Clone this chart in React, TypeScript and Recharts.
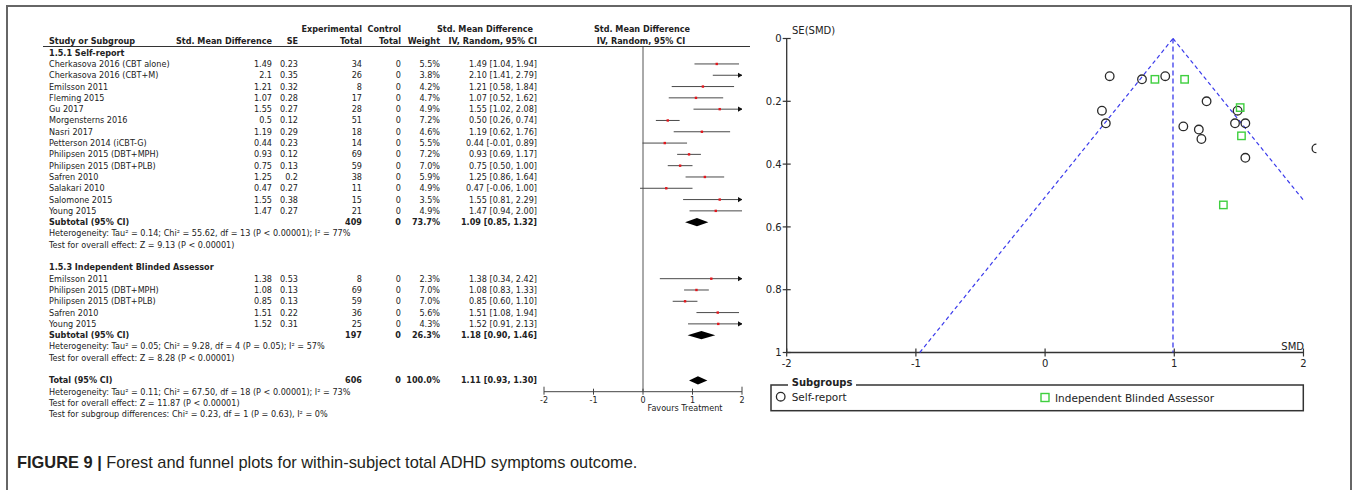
import React from 'react'
import { ScatterChart, Scatter, XAxis, YAxis, ErrorBar, ReferenceLine, ReferenceArea } from 'recharts'

// 1.5.1 Self-report
const selfNames = [
  'Cherkasova 2016 (CBT alone)', 'Cherkasova 2016 (CBT+M)', 'Emilsson 2011', 'Fleming 2015', 'Gu 2017',
  'Morgensterns 2016', 'Nasri 2017', 'Petterson 2014 (iCBT-G)', 'Philipsen 2015 (DBT+MPH)',
  'Philipsen 2015 (DBT+PLB)', 'Safren 2010', 'Salakari 2010', 'Salomone 2015', 'Young 2015',
]
const selfSmd = [1.49, 2.1, 1.21, 1.07, 1.55, 0.5, 1.19, 0.44, 0.93, 0.75, 1.25, 0.47, 1.55, 1.47]
const selfSe = [0.23, 0.35, 0.32, 0.28, 0.27, 0.12, 0.29, 0.23, 0.12, 0.13, 0.2, 0.27, 0.38, 0.27]
const selfTotal = [34, 26, 8, 17, 28, 51, 18, 14, 69, 59, 38, 11, 15, 21]
const selfWeight = [5.5, 3.8, 4.2, 4.7, 4.9, 7.2, 4.6, 5.5, 7.2, 7.0, 5.9, 4.9, 3.5, 4.9]
const selfLow = [1.04, 1.41, 0.58, 0.52, 1.02, 0.26, 0.62, -0.01, 0.69, 0.5, 0.86, -0.06, 0.81, 0.94]
const selfHigh = [1.94, 2.79, 1.84, 1.62, 2.08, 0.74, 1.76, 0.89, 1.17, 1.0, 1.64, 1.0, 2.29, 2.0]

// 1.5.3 Independent Blinded Assessor
const ibaNames = ['Emilsson 2011', 'Philipsen 2015 (DBT+MPH)', 'Philipsen 2015 (DBT+PLB)', 'Safren 2010', 'Young 2015']
const ibaSmd = [1.38, 1.08, 0.85, 1.51, 1.52]
const ibaSe = [0.53, 0.13, 0.13, 0.22, 0.31]
const ibaTotal = [8, 69, 59, 36, 25]
const ibaWeight = [2.3, 7.0, 7.0, 5.6, 4.3]
const ibaLow = [0.34, 0.83, 0.6, 1.08, 0.91]
const ibaHigh = [2.42, 1.33, 1.1, 1.94, 2.13]

// subtotals and total (diamonds)
const summaryLabels = ['Subtotal (95% CI)', 'Subtotal (95% CI)', 'Total (95% CI)']
const summaryTotal = [409, 197, 606]
const summaryWeight = [73.7, 26.3, 100.0]
const summarySmd = [1.09, 1.18, 1.11]
const summaryLow = [0.85, 0.9, 0.93]
const summaryHigh = [1.32, 1.46, 1.3]

const heterogeneity = [
  'Heterogeneity: Tau² = 0.14; Chi² = 55.62, df = 13 (P < 0.00001); I² = 77%',
  'Heterogeneity: Tau² = 0.05; Chi² = 9.28, df = 4 (P = 0.05); I² = 57%',
  'Heterogeneity: Tau² = 0.11; Chi² = 67.50, df = 18 (P < 0.00001); I² = 73%',
]
const overallEffect = [
  'Test for overall effect: Z = 9.13 (P < 0.00001)',
  'Test for overall effect: Z = 8.28 (P < 0.00001)',
  'Test for overall effect: Z = 11.87 (P < 0.00001)',
]
const subgroupTest = 'Test for subgroup differences: Chi² = 0.23, df = 1 (P = 0.63), I² = 0%'

const forestTicks = [-2, -1, 0, 1, 2]
const funnelXTicks = [-2, -1, 0, 1, 2]
const funnelYTicks = [0, 0.2, 0.4, 0.6, 0.8, 1]
const funnelCentre = 0.99
const funnelLeftLimit = [{ x: -0.97, y: 1 }, { x: 0.99, y: 0 }]
const funnelRightLimit = [{ x: 0.99, y: 0 }, { x: 2, y: 0.515 }]
const subgroupNames = ['Self-report', 'Independent Blinded Assessor']

const FONT = "'DejaVu Sans', sans-serif"
const INK = '#222'

// forest layout: row index -> y
const ROW_TOP = -1.5
const ROW_BOTTOM = 29
const PLOT_TOP = 47
const PLOT_BOTTOM = 391.7
const FOREST_H = 420
const rowY = (k: number) => PLOT_TOP + ((k - ROW_TOP) * (PLOT_BOTTOM - PLOT_TOP)) / (ROW_BOTTOM - ROW_TOP)

const SELF_START = 0
const IBA_HEAD = 18
const IBA_START = 19
const summaryRows = [14, 24, 28]

const COL = { study: 49, smd: 272, se: 298, exp: 362, ctl: 401, weight: 440, ci: 537 }

const ciText = (v: number, lo: number, hi: number) => `${v.toFixed(2)} [${lo.toFixed(2)}, ${hi.toFixed(2)}]`

const toRows = (smd: number[], low: number[], high: number[], start: number) =>
  smd.map((v, i) => ({ x: v, y: start + i, err: [v - low[i], Math.min(high[i], 2) - v] }))

const selfRows = toRows(selfSmd, selfLow, selfHigh, SELF_START)
const ibaRows = toRows(ibaSmd, ibaLow, ibaHigh, IBA_START)
const arrowRows = [
  ...selfHigh.map((h, i) => ({ h, y: SELF_START + i })),
  ...ibaHigh.map((h, i) => ({ h, y: IBA_START + i })),
]
  .filter((r) => r.h > 2)
  .map((r) => ({ x: 2, y: r.y }))

const selfPoints = selfSmd.map((v, i) => ({ smd: v, se: selfSe[i] }))
const ibaPoints = ibaSmd.map((v, i) => ({ smd: v, se: ibaSe[i] }))

const redDot = (p: any) => <rect x={p.cx - 1.2} y={p.cy - 1.2} width={2.4} height={2.4} fill="#e3161c" />
const arrowHead = (p: any) => (
  <polygon points={`${p.cx - 4},${p.cy - 2.6} ${p.cx + 0.5},${p.cy} ${p.cx - 4},${p.cy + 2.6}`} fill="#111" />
)
const diamondShape = (p: any, frac: number) => {
  const { x, y, width, height } = p
  const mx = x + width * frac
  const my = y + height / 2
  return <polygon points={`${x},${my} ${mx},${y} ${x + width},${my} ${mx},${y + height}`} fill="#000" />
}

const forestTick = (p: any) => {
  const end = p.payload.value === -2 || p.payload.value === 2
  return (
    <g>
      <line x1={p.x} x2={p.x} y1={p.y - (end ? 5 : 3)} y2={p.y + 3} stroke="#444" />
      <text x={p.x} y={p.y + 11} textAnchor="middle" fontSize={8} fontFamily={FONT} fill={INK}>
        {String(p.payload.value)}
      </text>
    </g>
  )
}

const funnelXTick = (p: any) => (
  <g>
    <line x1={p.x} x2={p.x} y1={p.y - 4} y2={p.y + 4} stroke="#333" strokeWidth={1.2} />
    <text x={p.x} y={p.y + 14.5} textAnchor="middle" fontSize={10} fontFamily={FONT} fill={INK}>
      {String(p.payload.value)}
    </text>
  </g>
)

const funnelYTick = (p: any) => (
  <g>
    <line x1={p.x - 4} x2={p.x + 4} y1={p.y} y2={p.y} stroke="#333" strokeWidth={1.2} />
    <text x={p.x - 5} y={p.y + 3.6} textAnchor="end" fontSize={10} fontFamily={FONT} fill={INK}>
      {String(p.payload.value)}
    </text>
  </g>
)

const circleMark = (p: any) => <circle cx={p.cx} cy={p.cy} r={4.3} fill="none" stroke="#2a2a2a" strokeWidth={1.3} />
const squareMark = (p: any) => (
  <rect x={p.cx - 3.7} y={p.cy - 3.7} width={7.4} height={7.4} fill="none" stroke="#3fcf3f" strokeWidth={1.4} />
)

const ForestPlot = () => (
  <ScatterChart
    width={760}
    height={FOREST_H}
    margin={{ top: PLOT_TOP, right: 18, bottom: FOREST_H - PLOT_BOTTOM - 20, left: 544 }}
  >
    <XAxis
      type="number"
      dataKey="x"
      domain={[-2, 2]}
      allowDataOverflow
      ticks={forestTicks}
      interval={0}
      height={20}
      axisLine={{ stroke: '#444' }}
      tickLine={false}
      tickSize={0}
      tickMargin={0}
      tick={forestTick}
    />
    <YAxis type="number" dataKey="y" domain={[ROW_TOP, ROW_BOTTOM]} reversed hide />
    <ReferenceLine x={0} stroke="#555" />
    {summaryRows.map((r, i) => (
      <ReferenceArea
        key={i}
        x1={summaryLow[i]}
        x2={summaryHigh[i]}
        y1={r - 0.36}
        y2={r + 0.36}
        shape={(p: any) => diamondShape(p, (summarySmd[i] - summaryLow[i]) / (summaryHigh[i] - summaryLow[i]))}
      />
    ))}
    <Scatter data={selfRows} shape={redDot} isAnimationActive={false}>
      <ErrorBar dataKey="err" direction="x" width={0} stroke="#4a4a4a" strokeWidth={1} />
    </Scatter>
    <Scatter data={ibaRows} shape={redDot} isAnimationActive={false}>
      <ErrorBar dataKey="err" direction="x" width={0} stroke="#4a4a4a" strokeWidth={1} />
    </Scatter>
    <Scatter data={arrowRows} shape={arrowHead} isAnimationActive={false} />
  </ScatterChart>
)

const FunnelPlot = () => (
  <ScatterChart width={657} height={440} margin={{ top: 38.5, right: 40.6, bottom: 67.5, left: 46.7 }}>
    <XAxis
      type="number"
      dataKey="smd"
      domain={[-2, 2.1]}
      allowDataOverflow
      ticks={funnelXTicks}
      interval={0}
      height={20}
      axisLine={false}
      tickLine={false}
      tickSize={0}
      tickMargin={0}
      tick={funnelXTick}
    />
    <YAxis
      type="number"
      dataKey="se"
      domain={[0, 1]}
      reversed
      ticks={funnelYTicks}
      interval={0}
      width={40}
      axisLine={{ stroke: '#333', strokeWidth: 1.3 }}
      tickLine={false}
      tickSize={0}
      tickMargin={0}
      tick={funnelYTick}
    />
    <ReferenceLine segment={[{ x: -2, y: 1 }, { x: 2, y: 1 }]} stroke="#333" strokeWidth={1.3} />
    <ReferenceLine
      segment={[{ x: funnelCentre, y: 0 }, { x: funnelCentre, y: 1 }]}
      stroke="#3b3bec"
      strokeWidth={1.3}
      strokeDasharray="5 3"
    />
    <ReferenceLine segment={funnelLeftLimit} stroke="#3b3bec" strokeWidth={1.2} strokeDasharray="4 3" />
    <ReferenceLine segment={funnelRightLimit} stroke="#3b3bec" strokeWidth={1.2} strokeDasharray="4 3" />
    <Scatter name={subgroupNames[0]} data={selfPoints} shape={circleMark} isAnimationActive={false} />
    <Scatter name={subgroupNames[1]} data={ibaPoints} shape={squareMark} isAnimationActive={false} />
  </ScatterChart>
)

const Txt = ({ x, k, y, anchor = 'start', bold = false, children }: any) => (
  <text x={x} y={(y ?? rowY(k)) + 3} textAnchor={anchor} fontWeight={bold ? 'bold' : 'normal'}>
    {children}
  </text>
)

const studyRows = (
  names: string[], smd: number[], se: number[], total: number[], weight: number[],
  low: number[], high: number[], start: number,
) =>
  names.map((n, i) => (
    <g key={n + i}>
      <Txt x={COL.study} k={start + i}>{n}</Txt>
      <Txt x={COL.smd} k={start + i} anchor="end">{String(smd[i])}</Txt>
      <Txt x={COL.se} k={start + i} anchor="end">{String(se[i])}</Txt>
      <Txt x={COL.exp} k={start + i} anchor="end">{total[i]}</Txt>
      <Txt x={COL.ctl} k={start + i} anchor="end">0</Txt>
      <Txt x={COL.weight} k={start + i} anchor="end">{weight[i].toFixed(1)}%</Txt>
      <Txt x={COL.ci} k={start + i} anchor="end">{ciText(smd[i], low[i], high[i])}</Txt>
    </g>
  ))

const ForestTable = () => (
  <g fontFamily={FONT} fontSize={8.1} fill={INK}>
    <Txt x={COL.exp} k={-3.05} anchor="end" bold>Experimental</Txt>
    <Txt x={COL.ctl} k={-3.05} anchor="end" bold>Control</Txt>
    <Txt x={533} k={-3.05} anchor="end" bold>Std. Mean Difference</Txt>
    <Txt x={642} k={-3.05} anchor="middle" bold>Std. Mean Difference</Txt>
    <Txt x={COL.study} k={-2.05} bold>Study or Subgroup</Txt>
    <Txt x={COL.smd} k={-2.05} anchor="end" bold>Std. Mean Difference</Txt>
    <Txt x={COL.se} k={-2.05} anchor="end" bold>SE</Txt>
    <Txt x={COL.exp} k={-2.05} anchor="end" bold>Total</Txt>
    <Txt x={COL.ctl} k={-2.05} anchor="end" bold>Total</Txt>
    <Txt x={COL.weight} k={-2.05} anchor="end" bold>Weight</Txt>
    <Txt x={COL.ci} k={-2.05} anchor="end" bold>IV, Random, 95% CI</Txt>
    <Txt x={641} k={-2.05} anchor="middle" bold>IV, Random, 95% CI</Txt>
    <line x1={43} x2={750} y1={46.5} y2={46.5} stroke="#333" strokeWidth={1} />

    <Txt x={COL.study} k={-1} bold>1.5.1 Self-report</Txt>
    {studyRows(selfNames, selfSmd, selfSe, selfTotal, selfWeight, selfLow, selfHigh, SELF_START)}
    <Txt x={COL.study} k={IBA_HEAD} bold>1.5.3 Independent Blinded Assessor</Txt>
    {studyRows(ibaNames, ibaSmd, ibaSe, ibaTotal, ibaWeight, ibaLow, ibaHigh, IBA_START)}

    {summaryRows.map((r, i) => (
      <g key={'s' + i}>
        <Txt x={COL.study} k={r} bold>{summaryLabels[i]}</Txt>
        <Txt x={COL.exp} k={r} anchor="end" bold>{summaryTotal[i]}</Txt>
        <Txt x={COL.ctl} k={r} anchor="end" bold>0</Txt>
        <Txt x={COL.weight} k={r} anchor="end" bold>{summaryWeight[i].toFixed(1)}%</Txt>
        <Txt x={COL.ci} k={r} anchor="end" bold>{ciText(summarySmd[i], summaryLow[i], summaryHigh[i])}</Txt>
        <Txt x={COL.study} k={r + 1}>{heterogeneity[i]}</Txt>
        <Txt x={COL.study} k={r + 2}>{overallEffect[i]}</Txt>
      </g>
    ))}
    <Txt x={COL.study} k={summaryRows[2] + 3}>{subgroupTest}</Txt>
    <Txt x={685} y={408.3} anchor="middle">Favours Treatment</Txt>
  </g>
)

const FunnelText = () => (
  <g fontFamily={FONT} fill={INK}>
    <text x={792} y={34} fontSize={10}>SE(SMD)</text>
    <text x={1304} y={349.5} fontSize={10} textAnchor="end">SMD</text>
    <rect x={771} y={385} width={532.3} height={25.7} fill="none" stroke="#333" strokeWidth={1.5} />
    <rect x={788} y={379} width={68} height={9} fill="#fff" />
    <text x={791.7} y={386} fontSize={10} fontWeight="bold">Subgroups</text>
    <circle cx={780.7} cy={396.7} r={4.3} fill="none" stroke="#2a2a2a" strokeWidth={1.3} />
    <text x={791.7} y={400.5} fontSize={10.5}>{subgroupNames[0]}</text>
    <rect x={1041} y={393.5} width={8} height={8} fill="none" stroke="#3fcf3f" strokeWidth={1.4} />
    <text x={1055} y={401.5} fontSize={10.5}>{subgroupNames[1]}</text>
  </g>
)

export default function App() {
  return (
    <div style={{ position: 'relative', width: 1357, height: 490, overflow: 'hidden', background: '#fff' }}>
      <style>{'body{margin:0}'}</style>
      <div
        style={{
          position: 'absolute', left: 6, top: 5, width: 1346, height: 520,
          border: '2px solid #666', boxSizing: 'border-box',
        }}
      />
      <div style={{ position: 'absolute', left: 0, top: 0 }}>
        <ForestPlot />
      </div>
      <div style={{ position: 'absolute', left: 700, top: 0 }}>
        <FunnelPlot />
      </div>
      <svg width={1357} height={490} style={{ position: 'absolute', left: 0, top: 0, pointerEvents: 'none' }}>
        <ForestTable />
        <FunnelText />
        <text x={17} y={468} fontFamily="'Liberation Sans', Arial, sans-serif" fontSize={16.4} fill="#231f20">
          <tspan fontWeight="bold">FIGURE 9 | </tspan>
          <tspan>Forest and funnel plots for within-subject total ADHD symptoms outcome.</tspan>
        </text>
      </svg>
    </div>
  )
}
